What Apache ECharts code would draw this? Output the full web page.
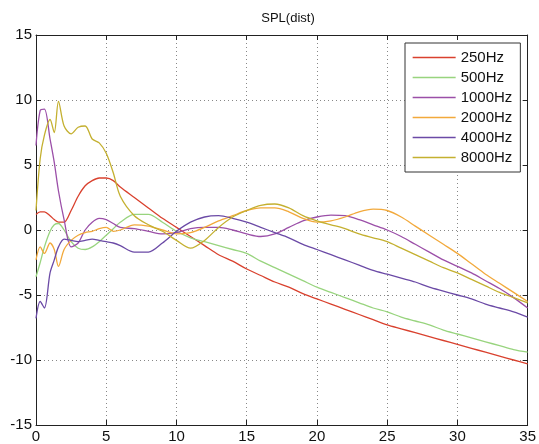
<!DOCTYPE html>
<html><head><meta charset="utf-8">
<script src="https://cdn.jsdelivr.net/npm/echarts@6/dist/echarts.min.js"></script>
<style>html,body{margin:0;padding:0;background:#fff}#c{width:539px;height:444px}</style>
</head><body><div id="c"></div>
<script>
const titleText = 'SPL(dist)';
const X = [0,0.3,0.6,1,1.3,1.6,2,2.5,3,3.5,4,4.5,5,5.5,6,7,8,9,10,11,12,13,14,15,16,17,18,19,20,21,22,23,24,25,26,27,28,29,30,31,32,33,34,35];
const names = ['250Hz','500Hz','1000Hz','2000Hz','4000Hz','8000Hz'];
const y250 = [1.2,1.4,1.4,1.1,0.8,0.6,0.6,1.5,2.6,3.4,3.8,4.0,4.0,3.8,3.3,2.5,1.7,0.9,0.2,-0.5,-1.2,-1.9,-2.4,-3.0,-3.5,-4.0,-4.4,-4.9,-5.3,-5.7,-6.1,-6.5,-6.9,-7.3,-7.6,-7.9,-8.2,-8.5,-8.8,-9.1,-9.4,-9.7,-10.0,-10.3];
const y500 = [-3.6,-2.5,-1.3,-0.1,0.4,0.5,0.0,-0.9,-1.4,-1.5,-1.3,-0.9,-0.4,0.1,0.6,1.2,1.2,0.6,-0.1,-0.6,-0.9,-1.2,-1.5,-1.8,-2.4,-2.9,-3.4,-3.9,-4.4,-4.8,-5.2,-5.6,-6.0,-6.3,-6.7,-7.0,-7.3,-7.7,-8.0,-8.3,-8.6,-8.9,-9.2,-9.4];
const y1000 = [6.5,9.2,9.3,7.0,5.2,3.0,0.8,-1.3,-1.0,0.0,0.6,0.9,0.8,0.5,0.2,0.1,-0.1,-0.3,-0.2,0.1,0.2,0.2,0.0,-0.3,-0.5,-0.3,0.2,0.7,1.0,1.15,1.1,0.8,0.4,0.0,-0.5,-1.1,-1.7,-2.3,-2.8,-3.3,-3.9,-4.5,-5.2,-6.0];
const y2000 = [-2.3,-1.3,-1.8,-1.0,-1.5,-2.8,-1.5,-0.8,-0.4,-0.2,-0.1,0.1,0.2,-0.1,0.0,0.4,0.3,0.0,-0.3,-0.2,0.2,0.7,1.1,1.5,1.7,1.7,1.4,0.9,0.6,0.7,1.0,1.4,1.6,1.5,1.0,0.3,-0.4,-1.1,-1.8,-2.6,-3.4,-4.1,-4.8,-5.5];
const y4000 = [-6.8,-5.5,-6.0,-3.3,-2.3,-1.3,-0.7,-0.8,-0.9,-0.8,-0.7,-0.8,-0.9,-1.0,-1.2,-1.7,-1.7,-1.0,-0.1,0.6,1.0,1.1,0.9,0.6,0.2,-0.2,-0.6,-1.1,-1.5,-1.9,-2.3,-2.7,-3.1,-3.4,-3.7,-4.0,-4.4,-4.7,-5.0,-5.3,-5.7,-6.0,-6.3,-6.7];
const y8000 = [1.5,5.5,7.3,8.5,7.5,9.9,8.0,7.4,7.9,8.0,7.0,6.7,5.9,4.4,2.6,1.1,0.4,-0.1,-0.8,-1.4,-0.8,0.2,1.0,1.5,1.9,2.0,1.7,1.1,0.7,0.4,0.1,-0.3,-0.6,-0.9,-1.4,-1.9,-2.4,-2.9,-3.3,-3.8,-4.3,-4.8,-5.2,-5.6];
const xTicks = [0,5,10,15,20,25,30,35];
const yTicks = [-15,-10,-5,0,5,10,15];

const colors = ['#d9412e','#98d47e','#9b4fa8','#f2a93b','#6b4aa6','#c4b030'];
const ys = [y250,y500,y1000,y2000,y4000,y8000];
const font = 'Liberation Sans, Arial, sans-serif';
const chart = echarts.init(document.getElementById('c'));
chart.setOption({
  animation:false,
  backgroundColor:'#fff',
  title:{text:titleText,left:283,top:7,textAlign:'center',textStyle:{fontSize:13,fontWeight:'normal',color:'#111',fontFamily:font}},
  grid:{left:36,right:9,top:35,bottom:19},
  legend:{orient:'vertical',left:405,top:43,padding:[6,8,6,7],itemWidth:43,itemHeight:14,itemGap:3,itemTextGap:7,
    backgroundColor:'#fff',borderColor:'#333',borderWidth:1,borderRadius:0,
    itemStyle:{opacity:0},lineStyle:{width:1.3},
    textStyle:{fontSize:15,color:'#111',fontFamily:font,lineHeight:17},data:names},
  xAxis:[{type:'value',min:xTicks[0],max:xTicks[xTicks.length-1],interval:5,
    axisLine:{onZero:false,lineStyle:{color:'#222',width:1}},axisTick:{inside:true,length:5,lineStyle:{color:'#222'}},
    axisLabel:{fontSize:15,color:'#111',margin:4,fontFamily:font},
    splitLine:{show:true,lineStyle:{color:'#888',type:[1,3],width:1}}},
   {type:'value',position:'top',min:0,max:35,interval:5,axisLine:{onZero:false,lineStyle:{color:'#222'}},
    axisTick:{inside:true,length:5,lineStyle:{color:'#222'}},axisLabel:{show:false},splitLine:{show:false}}],
  yAxis:[{type:'value',min:yTicks[0],max:yTicks[yTicks.length-1],interval:5,
    axisLine:{show:true,onZero:false,lineStyle:{color:'#222',width:1}},axisTick:{show:true,inside:true,length:5,lineStyle:{color:'#222'}},
    axisLabel:{fontSize:15,color:'#111',margin:4,fontFamily:font},
    splitLine:{show:true,lineStyle:{color:'#888',type:[1,3],width:1}}},
   {type:'value',position:'right',min:-15,max:15,interval:5,axisLine:{show:true,onZero:false,lineStyle:{color:'#222'}},
    axisTick:{show:true,inside:true,length:5,lineStyle:{color:'#222'}},axisLabel:{show:false},splitLine:{show:false}}],
  series: names.map((n,k)=>({name:n,type:'line',xAxisIndex:0,yAxisIndex:0,symbol:'none',smooth:0.3,
    color:colors[k],lineStyle:{width:1.3,color:colors[k]},
    data:X.map((x,i)=>[x,ys[k][i]])}))
});
</script></body></html>
